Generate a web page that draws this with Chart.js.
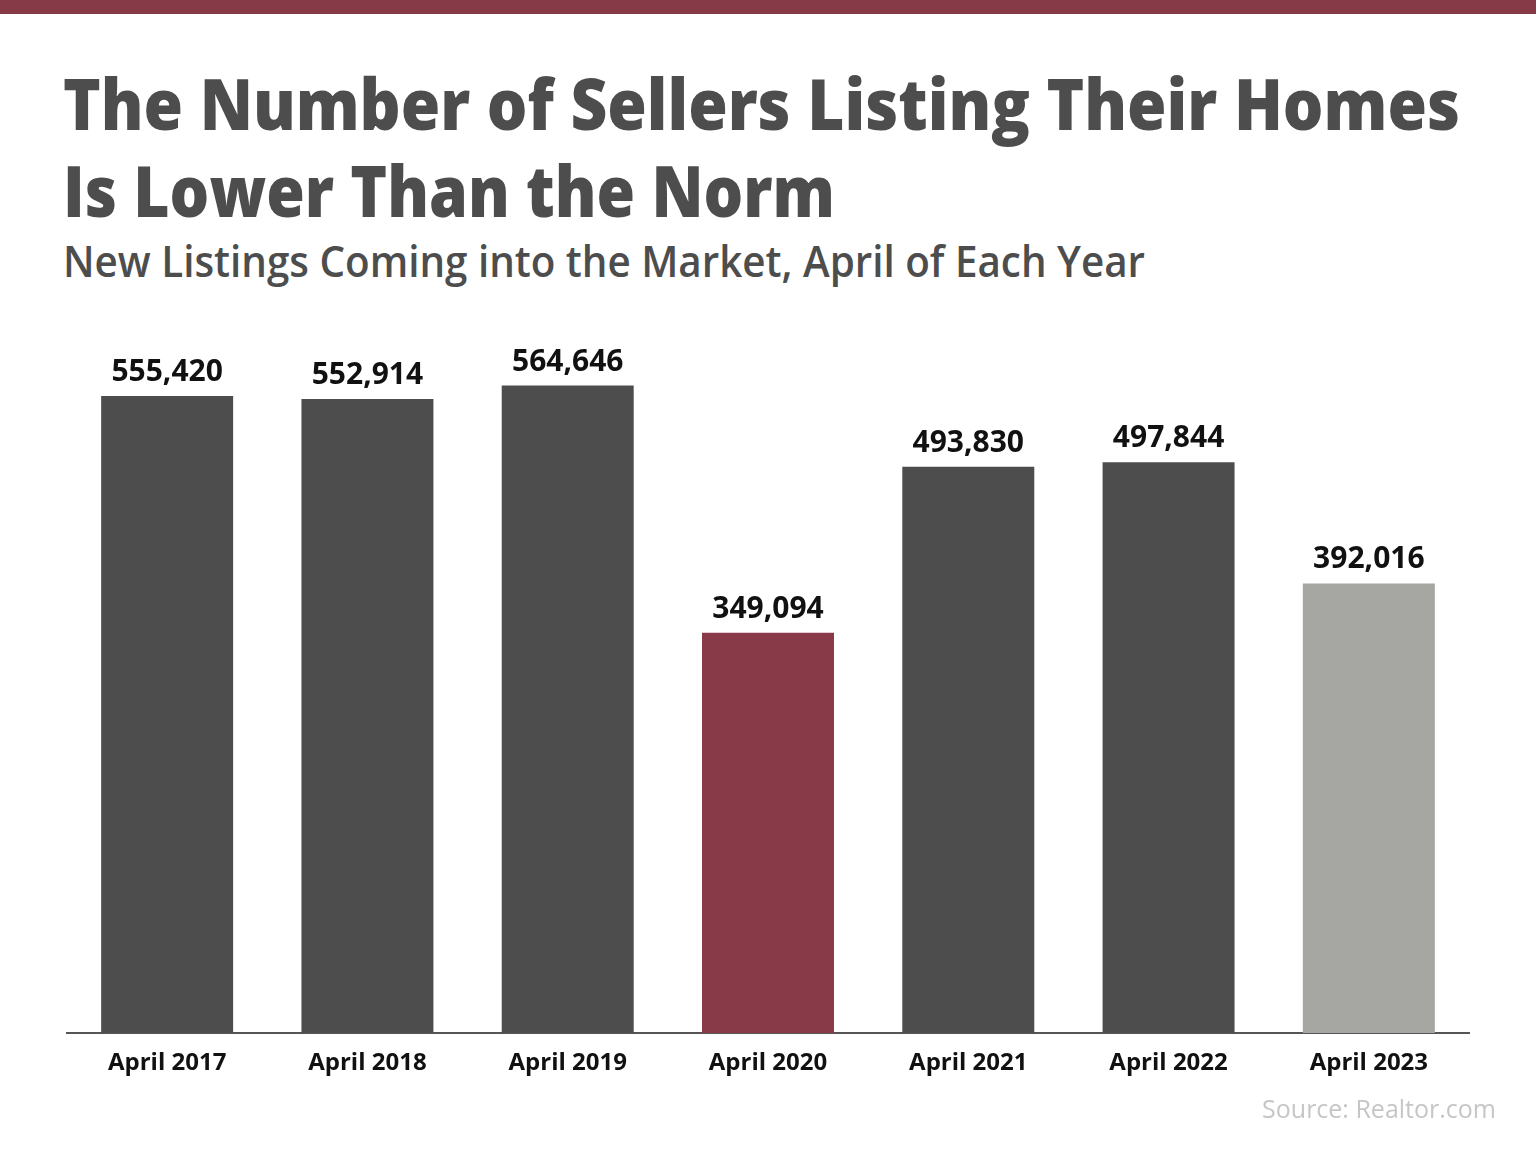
<!DOCTYPE html>
<html>
<head>
<meta charset="utf-8">
<script src="https://cdn.jsdelivr.net/npm/chart.js@4/dist/chart.umd.min.js"></script>
<style>
  html,body{margin:0;padding:0;background:#fff;}
  body{width:1536px;height:1152px;position:relative;overflow:hidden;font-family:"Open Sans",sans-serif;}
  #topbar{position:absolute;left:0;top:0;width:1536px;height:14px;background:#863a47;}
  .t{position:absolute;left:63px;white-space:nowrap;color:#4d4d4d;transform-origin:0 0;line-height:1;}
  .title{font-size:70px;font-weight:800;}
  .sub{font-size:43px;font-weight:600;}
  #source{position:absolute;right:40px;top:1096px;font-size:25px;color:#c6c6c6;line-height:1;white-space:nowrap;}
  #wrap{position:absolute;left:0;top:0;width:1536px;height:1152px;}
</style>
</head>
<body>
<div id="topbar"></div>
<div class="t title" id="t1" data-w="1397" style="top:68px;">The Number of Sellers Listing Their Homes</div>
<div class="t title" id="t2" data-w="772" style="top:155px;">Is Lower Than the Norm</div>
<div class="t sub" id="t3" data-w="1082" style="top:239px;">New Listings Coming into the Market, April of Each Year</div>
<div id="wrap"><canvas id="c" width="1536" height="1152"></canvas></div>
<div id="source">Source: Realtor.com</div>
<script>
const categories = ["April 2017","April 2018","April 2019","April 2020","April 2021","April 2022","April 2023"];
const newListings = [555420, 552914, 564646, 349094, 493830, 497844, 392016];
const barColors = ["#4d4d4d","#4d4d4d","#4d4d4d","#893a48","#4d4d4d","#4d4d4d","#a6a6a2"];

document.querySelectorAll('.t').forEach(el=>{
  el.style.display='inline-block';
  const w = el.getBoundingClientRect().width;
  const target = +el.dataset.w;
  el.style.transform = 'scaleX(' + (target/w) + ')';
});

const labelPlugin = {
  id:'valueLabels',
  afterDatasetsDraw(chart){
    const ctx = chart.ctx;
    const meta = chart.getDatasetMeta(0);
    ctx.save();
    ctx.font = '700 30px "Open Sans"';
    ctx.fillStyle = '#111';
    ctx.textAlign = 'center';
    ctx.textBaseline = 'alphabetic';
    meta.data.forEach((bar,i)=>{
      ctx.fillText(newListings[i].toLocaleString('en-US'), bar.x, bar.y - 15);
    });
    ctx.restore();
  }
};

new Chart(document.getElementById('c'), {
  type:'bar',
  data:{
    labels:categories,
    datasets:[{data:newListings, backgroundColor:barColors, borderWidth:0,
      barPercentage:0.659, categoryPercentage:1.0}]
  },
  options:{
    responsive:false, animation:false,
    layout:{padding:{left:67, right:67, top:345, bottom:0}},
    plugins:{legend:{display:false}, tooltip:{enabled:false}},
    scales:{
      x:{
        grid:{display:false, drawTicks:false},
        border:{display:true, color:'#555', width:2},
        ticks:{color:'#111', font:{family:'"Open Sans"', size:24, weight:'700'}, padding:16, maxRotation:0},
        afterFit(scale){ scale.height = 119; }
      },
      y:{display:false, min:0, max:600000}
    }
  },
  plugins:[labelPlugin]
});
</script>
</body>
</html>
